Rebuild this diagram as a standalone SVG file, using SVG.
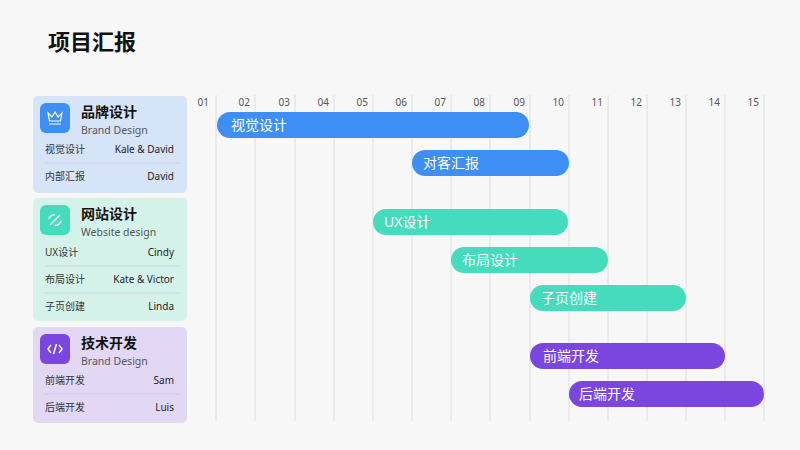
<svg xmlns="http://www.w3.org/2000/svg" width="800" height="450" viewBox="0 0 800 450">
<style>
text{font-family:"Noto Sans","Noto Sans CJK SC",sans-serif}
.t{font-size:22px;font-weight:bold;fill:#111}
.h{font-size:14px;font-weight:bold;fill:#111}
.s{font-size:10.5px;fill:#555}
.r{font-size:10px;fill:#333}
.rr{font-size:10px;fill:#222;text-anchor:end}
.g{stroke:#dedede;stroke-width:1}
.d{stroke:#c9c9d4;stroke-width:0.7}
.n{font-size:10px;fill:#555;text-anchor:end}
.b{font-size:14px;fill:#fff}
.blue{fill:#3d8ff5}.teal{fill:#45dcbd}.purp{fill:#7b45e0}
</style>
<rect width="800" height="450" fill="#f7f7f7"/>
<text class="t" x="48" y="50">项目汇报</text>
<g id="grid">
<g class="g">
<line x1="216" y1="95" x2="216" y2="421"/><line x1="255" y1="95" x2="255" y2="421"/><line x1="295" y1="95" x2="295" y2="421"/><line x1="334" y1="95" x2="334" y2="421"/><line x1="373" y1="95" x2="373" y2="421"/><line x1="412" y1="95" x2="412" y2="421"/><line x1="451" y1="95" x2="451" y2="421"/><line x1="490" y1="95" x2="490" y2="421"/><line x1="530" y1="95" x2="530" y2="421"/><line x1="569" y1="95" x2="569" y2="421"/><line x1="608" y1="95" x2="608" y2="421"/><line x1="647" y1="95" x2="647" y2="421"/><line x1="686" y1="95" x2="686" y2="421"/><line x1="725" y1="95" x2="725" y2="421"/><line x1="764" y1="95" x2="764" y2="421"/>
</g>
<text class="n" x="209" y="106">01</text><text class="n" x="250" y="106">02</text><text class="n" x="290" y="106">03</text><text class="n" x="329" y="106">04</text><text class="n" x="368" y="106">05</text><text class="n" x="407" y="106">06</text><text class="n" x="446" y="106">07</text><text class="n" x="485" y="106">08</text><text class="n" x="525" y="106">09</text><text class="n" x="564" y="106">10</text><text class="n" x="603" y="106">11</text><text class="n" x="642" y="106">12</text><text class="n" x="681" y="106">13</text><text class="n" x="720" y="106">14</text><text class="n" x="759" y="106">15</text>
</g>
<g id="card1">
<rect x="33" y="96" width="154" height="97" rx="5" fill="#d6e4f7"/>
<rect x="40" y="103" width="30" height="30" rx="6" fill="#3d8ff5"/>
<path d="M48 113 l4 4 l3-5 l3 5 l4-4 l-1.5 8 h-11 z M49 124 h12" fill="none" stroke="#fff" stroke-width="1.2"/>
<text class="h" x="81" y="117">品牌设计</text><text class="s" x="81" y="134">Brand Design</text>
<text class="r" x="45" y="153">视觉设计</text><text class="rr" x="174" y="153">Kale &amp; David</text>
<line class="d" x1="45" y1="163" x2="180" y2="163"/>
<text class="r" x="45" y="180">内部汇报</text><text class="rr" x="174" y="180">David</text>
</g>
<g id="card2">
<rect x="33" y="198" width="154" height="123" rx="5" fill="#d5f2ea"/>
<rect x="40" y="205" width="30" height="30" rx="6" fill="#45dcbd"/>
<path d="M50 225 l10-10 M49 219 a5 5 0 0 1 6-4 M61 221 a5 5 0 0 1 -6 4" fill="none" stroke="#fff" stroke-width="1.5"/>
<text class="h" x="81" y="219">网站设计</text><text class="s" x="81" y="236">Website design</text>
<text class="r" x="45" y="256">UX设计</text><text class="rr" x="174" y="256">Cindy</text>
<line class="d" x1="45" y1="266" x2="180" y2="266"/>
<text class="r" x="45" y="283">布局设计</text><text class="rr" x="174" y="283">Kate &amp; Victor</text>
<line class="d" x1="45" y1="293" x2="180" y2="293"/>
<text class="r" x="45" y="310">子页创建</text><text class="rr" x="174" y="310">Linda</text>
</g>
<g id="card3">
<rect x="33" y="327" width="154" height="96" rx="5" fill="#e2d8f4"/>
<rect x="40" y="334" width="30" height="30" rx="6" fill="#7b45e0"/>
<path d="M51 345 l-3 4 l3 4 M59 345 l3 4 l-3 4 M56.5 344 l-3 10" fill="none" stroke="#fff" stroke-width="1.5"/>
<text class="h" x="81" y="348">技术开发</text><text class="s" x="81" y="365">Brand Design</text>
<text class="r" x="45" y="384">前端开发</text><text class="rr" x="174" y="384">Sam</text>
<line class="d" x1="45" y1="394" x2="180" y2="394"/>
<text class="r" x="45" y="411">后端开发</text><text class="rr" x="174" y="411">Luis</text>
</g>
<g id="bars">
<rect class="blue" x="217" y="112" width="312" height="26" rx="13"/><text class="b" x="231" y="130">视觉设计</text>
<rect class="blue" x="412" y="150" width="157" height="26" rx="13"/><text class="b" x="423" y="168">对客汇报</text>
<rect class="teal" x="373" y="209" width="195" height="26" rx="13"/><text class="b" x="384" y="227">UX设计</text>
<rect class="teal" x="451" y="247" width="157" height="26" rx="13"/><text class="b" x="462" y="265">布局设计</text>
<rect class="teal" x="530" y="285" width="156" height="26" rx="13"/><text class="b" x="541" y="303">子页创建</text>
<rect class="purp" x="530" y="343" width="195" height="26" rx="13"/><text class="b" x="543" y="361">前端开发</text>
<rect class="purp" x="569" y="381" width="195" height="26" rx="13"/><text class="b" x="579" y="399">后端开发</text>
</g>
</svg>
